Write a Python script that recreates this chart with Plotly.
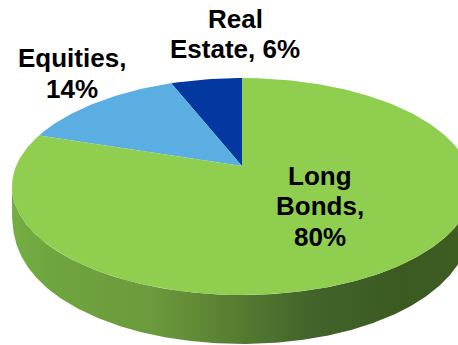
import numpy as np
import plotly.graph_objects as go

# Portfolio allocation, percent of total
categories = ["Real Estate", "Equities", "Long Bonds"]
shares = [6, 14, 80]
colors = ["#0338A0", "#5AAEE2", "#90CE50"]

# Label lines with their centre and baseline height on the canvas
label_lines = ["Real", "Estate, 6%", "Equities,", "14%", "Long", "Bonds,", "80%"]
label_x = [235, 235, 72, 72, 320, 320, 320]
label_y = [28, 58, 67, 98, 185, 215, 246]

WIDTH, HEIGHT = 458, 345

# Tilted disc: apex of the wedges, and the perspective factors for the top face
APEX_X, APEX_Y = 242, 166
SPREAD_X, SPREAD_Y, TILT = 225.9, 104.6, 0.189
DEPTH = 49


def rim(angle_deg):
    """Project a pie angle (counter-clockwise from 12 o'clock) onto the tilted disc."""
    a = np.radians(angle_deg)
    u, v = -np.sin(a), np.cos(a)
    d = 1 + TILT * v
    return APEX_X + SPREAD_X * u / d, APEX_Y - SPREAD_Y * v / d


fig = go.Figure()

# Side wall: hangs below the front of the rim and tapers out at the silhouette
edge = np.degrees(np.arccos(-TILT))
sweep = np.linspace(edge, 360 - edge, 361)
tx, ty = rim(sweep)
front = np.clip((-np.cos(np.radians(sweep)) - TILT) / (1 - TILT), 0, 1)
wall_x = np.concatenate([tx, tx[::-1]])
wall_y = np.concatenate([ty, (ty + DEPTH * front ** 0.2)[::-1]])
fig.add_trace(go.Scatter(
    x=wall_x, y=wall_y, mode="lines", line=dict(width=0), fill="toself",
    fillgradient=dict(
        type="horizontal", start=12, stop=472,
        colorscale=[
            [0.0, "#74AD42"], [0.1, "#6EA43F"], [0.3, "#6C9A3C"],
            [0.42, "#5F8735"], [0.65, "#42642A"], [0.85, "#3A5A20"], [1.0, "#3E5E22"],
        ],
    ),
    hoverinfo="skip", showlegend=False,
))

# Top face wedges, drawn counter-clockwise starting at 12 o'clock
start = 0.0
for name, share, color in zip(categories, shares, colors):
    sweep_deg = share / sum(shares) * 360
    angles = np.linspace(start, start + sweep_deg, max(int(sweep_deg), 2) + 1)
    rx, ry = rim(angles)
    fig.add_trace(go.Scatter(
        x=np.concatenate([[APEX_X], rx, [APEX_X]]),
        y=np.concatenate([[APEX_Y], ry, [APEX_Y]]),
        mode="lines", line=dict(width=0), fill="toself", fillcolor=color,
        name=name, showlegend=False,
    ))
    start += sweep_deg

for text, x, y in zip(label_lines, label_x, label_y):
    fig.add_annotation(
        x=x, y=y - 9, text=f"<b>{text}</b>", showarrow=False,
        xanchor="center", yanchor="middle",
        font=dict(family="Liberation Sans", size=26, color="#000000"),
    )

fig.update_layout(
    width=WIDTH, height=HEIGHT, margin=dict(l=0, r=0, t=0, b=0),
    paper_bgcolor="white", plot_bgcolor="white", showlegend=False,
    xaxis=dict(range=[0, WIDTH], visible=False, fixedrange=True),
    yaxis=dict(range=[HEIGHT, 0], visible=False, fixedrange=True),
)

fig.write_html("out.html")
